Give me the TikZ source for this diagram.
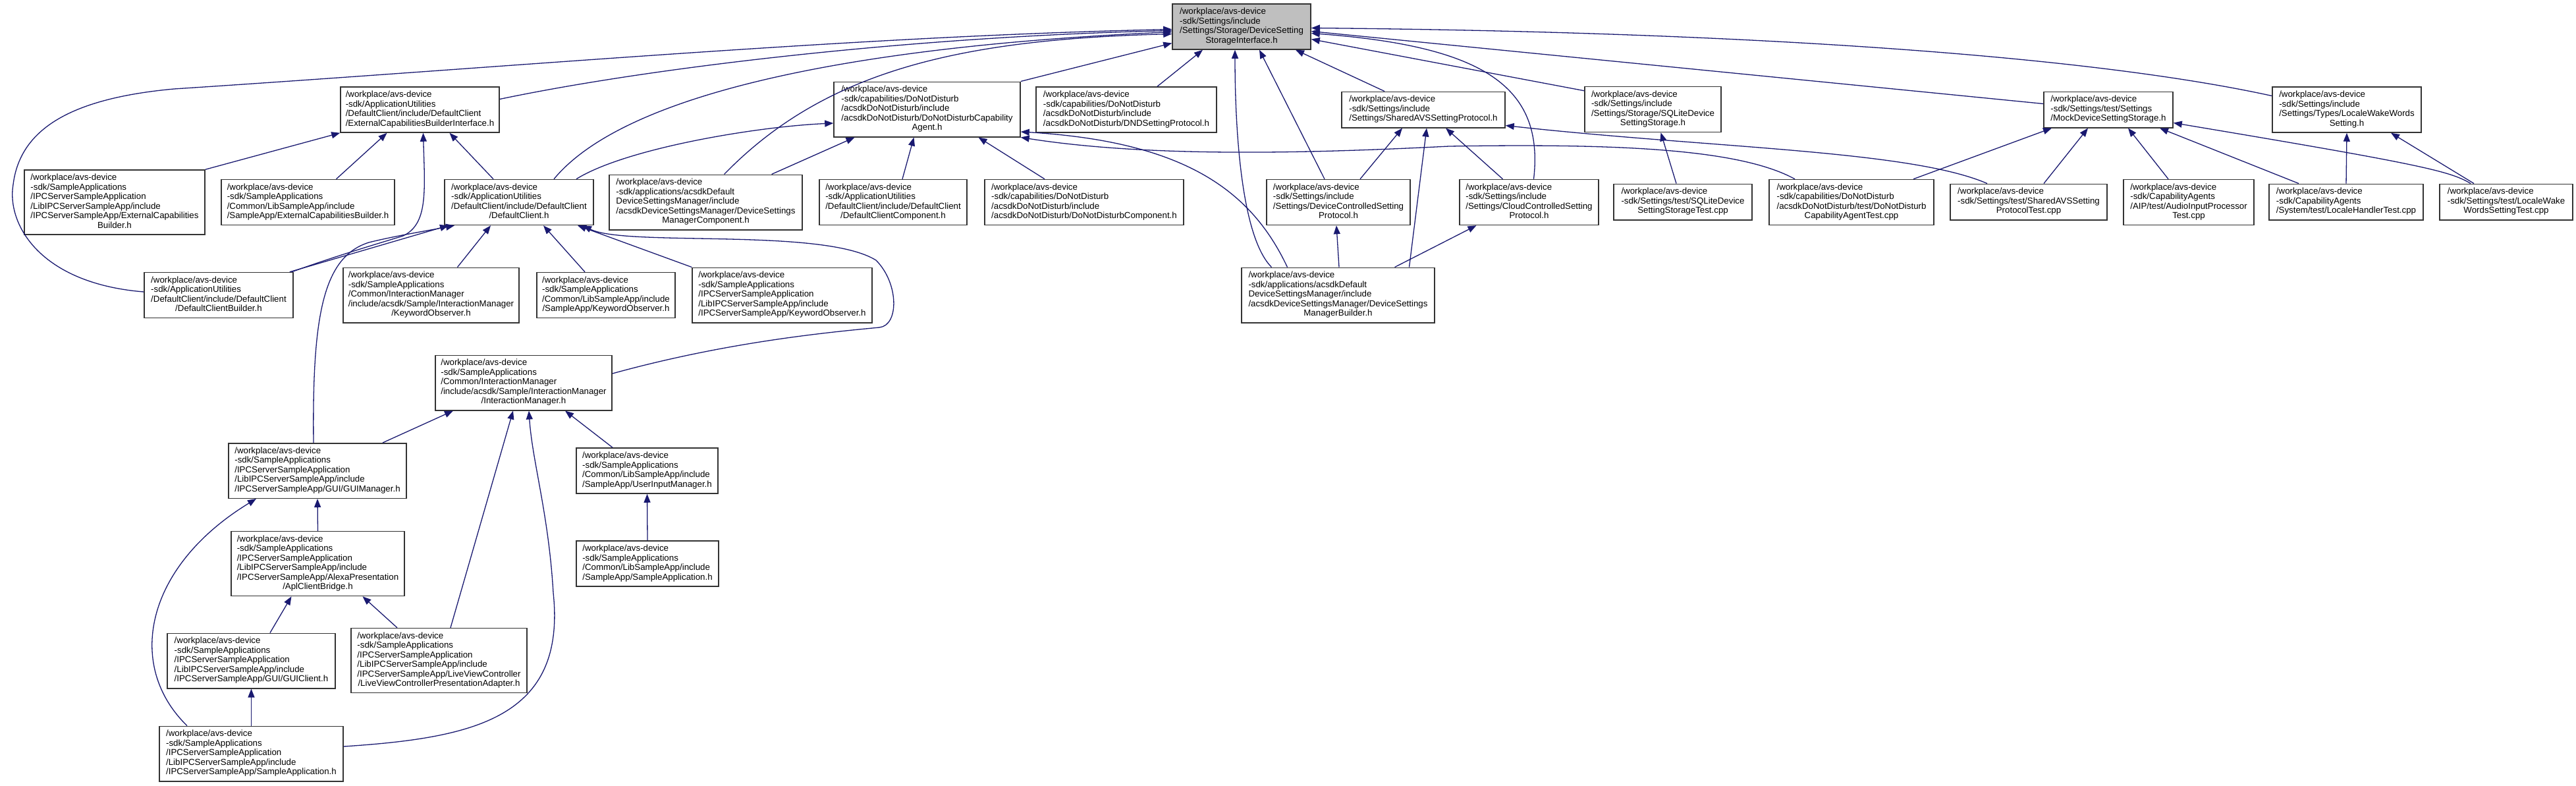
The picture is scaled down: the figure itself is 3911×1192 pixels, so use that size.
\documentclass[tikz,border=0pt]{standalone}
\usepackage{fontspec}
\setmainfont{Liberation Sans}
\usetikzlibrary{arrows.meta}
\definecolor{edgeblue}{RGB}{25,25,112}
\newcommand{\flines}[2]{\begin{tabular}{@{}l@{}}#1\\\multicolumn{1}{@{}c@{}}{#2}\end{tabular}}

\begin{document}
\begin{tikzpicture}[x=1pt, y=-1pt,
        filebox/.style={draw=black!80, line width=1.5pt, fill=white, inner xsep=6pt, inner ysep=5.5pt, font=\fontsize{13.3}{14.5}\selectfont},
        rootbox/.style={filebox, fill=black!25},
        incl/.style={draw=edgeblue, line width=1.3pt, -{Triangle[length=13pt, width=10pt]}}
    ]
        \useasboundingbox (0,0) rectangle (3911,1192);

        % Root
        \node[rootbox, minimum width=210pt] (root) at (1885,40.5) {\flines{/workplace/avs-device\\-sdk/Settings/include\\/Settings/Storage/DeviceSetting}{StorageInterface.h}};

        % Second row
        \node[filebox, minimum width=241pt] (extcapif) at (637.5,166.5) {\flines{/workplace/avs-device\\-sdk/ApplicationUtilities\\/DefaultClient/include/DefaultClient}{/ExternalCapabilitiesBuilderInterface.h}};
        \node[filebox, minimum width=283pt] (dndagent) at (1407.5,166) {\flines{/workplace/avs-device\\-sdk/capabilities/DoNotDisturb\\/acsdkDoNotDisturb/include\\/acsdkDoNotDisturb/DoNotDisturbCapability}{Agent.h}};
        \node[filebox, minimum width=274pt] (dndproto) at (1710,166.5) {\flines{/workplace/avs-device\\-sdk/capabilities/DoNotDisturb\\/acsdkDoNotDisturb/include}{/acsdkDoNotDisturb/DNDSettingProtocol.h}};
        \node[filebox, minimum width=248pt] (sharedavs) at (2161,166.5) {\flines{/workplace/avs-device\\-sdk/Settings/include}{/Settings/SharedAVSSettingProtocol.h}};
        \node[filebox, minimum width=207pt] (sqlite) at (2509.5,166) {\flines{/workplace/avs-device\\-sdk/Settings/include\\/Settings/Storage/SQLiteDevice}{SettingStorage.h}};
        \node[filebox, minimum width=196pt] (mockstore) at (3201,166.5) {\flines{/workplace/avs-device\\-sdk/Settings/test/Settings}{/MockDeviceSettingStorage.h}};
        \node[filebox, minimum width=226pt] (localeww) at (3563,166.5) {\flines{/workplace/avs-device\\-sdk/Settings/include\\/Settings/Types/LocaleWakeWords}{Setting.h}};

        % Third row
        \node[filebox, minimum width=274pt] (ipcextcap) at (174,307) {\flines{/workplace/avs-device\\-sdk/SampleApplications\\/IPCServerSampleApplication\\/LibIPCServerSampleApp/include\\/IPCServerSampleApp/ExternalCapabilities}{Builder.h}};
        \node[filebox, minimum width=263pt] (saextcap) at (467.5,307) {\flines{/workplace/avs-device\\-sdk/SampleApplications\\/Common/LibSampleApp/include}{/SampleApp/ExternalCapabilitiesBuilder.h}};
        \node[filebox, minimum width=226pt] (defclient) at (788,307) {\flines{/workplace/avs-device\\-sdk/ApplicationUtilities\\/DefaultClient/include/DefaultClient}{/DefaultClient.h}};
        \node[filebox, minimum width=293pt] (dsmcomp) at (1071.5,307) {\flines{/workplace/avs-device\\-sdk/applications/acsdkDefault\\DeviceSettingsManager/include\\/acsdkDeviceSettingsManager/DeviceSettings}{ManagerComponent.h}};
        \node[filebox, minimum width=224pt] (dccomp) at (1356,307) {\flines{/workplace/avs-device\\-sdk/ApplicationUtilities\\/DefaultClient/include/DefaultClient}{/DefaultClientComponent.h}};
        \node[filebox, minimum width=302pt] (dndcomp) at (1646,307) {\flines{/workplace/avs-device\\-sdk/capabilities/DoNotDisturb\\/acsdkDoNotDisturb/include}{/acsdkDoNotDisturb/DoNotDisturbComponent.h}};
        \node[filebox, minimum width=218pt] (devctl) at (2032,307) {\flines{/workplace/avs-device\\-sdk/Settings/include\\/Settings/DeviceControlledSetting}{Protocol.h}};
        \node[filebox, minimum width=211pt] (cloudctl) at (2321.5,307) {\flines{/workplace/avs-device\\-sdk/Settings/include\\/Settings/CloudControlledSetting}{Protocol.h}};
        \node[filebox, minimum width=210pt] (sqlitetest) at (2555,306.5) {\flines{/workplace/avs-device\\-sdk/Settings/test/SQLiteDevice}{SettingStorageTest.cpp}};
        \node[filebox, minimum width=250pt] (dndtest) at (2811,307) {\flines{/workplace/avs-device\\-sdk/capabilities/DoNotDisturb\\/acsdkDoNotDisturb/test/DoNotDisturb}{CapabilityAgentTest.cpp}};
        \node[filebox, minimum width=238pt] (sharedtest) at (3080,306.5) {\flines{/workplace/avs-device\\-sdk/Settings/test/SharedAVSSetting}{ProtocolTest.cpp}};
        \node[filebox, minimum width=198pt] (aiptest) at (3323,307) {\flines{/workplace/avs-device\\-sdk/CapabilityAgents\\/AIP/test/AudioInputProcessor}{Test.cpp}};
        \node[filebox, minimum width=234pt] (localetest) at (3562,306.5) {\flines{/workplace/avs-device\\-sdk/CapabilityAgents}{/System/test/LocaleHandlerTest.cpp}};
        \node[filebox, minimum width=202pt] (wakewordtest) at (3805,306.5) {\flines{/workplace/avs-device\\-sdk/Settings/test/LocaleWake}{WordsSettingTest.cpp}};

        % Fourth row
        \node[filebox, minimum width=226pt] (dcbuilder) at (332,448) {\flines{/workplace/avs-device\\-sdk/ApplicationUtilities\\/DefaultClient/include/DefaultClient}{/DefaultClientBuilder.h}};
        \node[filebox, minimum width=267pt] (kwim) at (654.5,448) {\flines{/workplace/avs-device\\-sdk/SampleApplications\\/Common/InteractionManager\\/include/acsdk/Sample/InteractionManager}{/KeywordObserver.h}};
        \node[filebox, minimum width=210pt] (kwsample) at (920,448) {\flines{/workplace/avs-device\\-sdk/SampleApplications\\/Common/LibSampleApp/include}{/SampleApp/KeywordObserver.h}};
        \node[filebox, minimum width=273pt] (kwipc) at (1187.5,448) {\flines{/workplace/avs-device\\-sdk/SampleApplications\\/IPCServerSampleApplication\\/LibIPCServerSampleApp/include}{/IPCServerSampleApp/KeywordObserver.h}};
        \node[filebox, minimum width=293pt] (dsmbuilder) at (2031.5,448) {\flines{/workplace/avs-device\\-sdk/applications/acsdkDefault\\DeviceSettingsManager/include\\/acsdkDeviceSettingsManager/DeviceSettings}{ManagerBuilder.h}};

        % Sample application chain
        \node[filebox, minimum width=268pt] (intmgr) at (795,581) {\flines{/workplace/avs-device\\-sdk/SampleApplications\\/Common/InteractionManager\\/include/acsdk/Sample/InteractionManager}{/InteractionManager.h}};
        \node[filebox, minimum width=270pt] (guimgr) at (482,714.5) {\flines{/workplace/avs-device\\-sdk/SampleApplications\\/IPCServerSampleApplication\\/LibIPCServerSampleApp/include}{/IPCServerSampleApp/GUI/GUIManager.h}};
        \node[filebox, minimum width=215pt] (userinput) at (982.5,714.5) {\flines{/workplace/avs-device\\-sdk/SampleApplications\\/Common/LibSampleApp/include}{/SampleApp/UserInputManager.h}};
        \node[filebox, minimum width=263pt] (aplbridge) at (482.5,855.5) {\flines{/workplace/avs-device\\-sdk/SampleApplications\\/IPCServerSampleApplication\\/LibIPCServerSampleApp/include\\/IPCServerSampleApp/AlexaPresentation}{/AplClientBridge.h}};
        \node[filebox, minimum width=216pt] (sampleapp) at (983,855.5) {\flines{/workplace/avs-device\\-sdk/SampleApplications\\/Common/LibSampleApp/include}{/SampleApp/SampleApplication.h}};
        \node[filebox, minimum width=255pt] (guiclient) at (381.5,1003) {\flines{/workplace/avs-device\\-sdk/SampleApplications\\/IPCServerSampleApplication\\/LibIPCServerSampleApp/include}{/IPCServerSampleApp/GUI/GUIClient.h}};
        \node[filebox, minimum width=267pt] (liveview) at (666.5,1002.5) {\flines{/workplace/avs-device\\-sdk/SampleApplications\\/IPCServerSampleApplication\\/LibIPCServerSampleApp/include\\/IPCServerSampleApp/LiveViewController}{/LiveViewControllerPresentationAdapter.h}};
        \node[filebox, minimum width=279pt] (ipcsampleapp) at (381.5,1144) {\flines{/workplace/avs-device\\-sdk/SampleApplications\\/IPCServerSampleApplication\\/LibIPCServerSampleApp/include}{/IPCServerSampleApp/SampleApplication.h}};

        % Into the root
        \draw[incl] ([yshift=5pt]dcbuilder.west) .. controls (60,430) and (10,340) .. (20,280) .. controls (30,200) and (100,150) .. (264,135) .. controls (800,100) and (1300,55) .. ([yshift=-4pt]root.west);
        \draw[incl] ([yshift=16pt]extcapif.east) .. controls (1000,100) and (1400,55) .. ([yshift=-6pt]root.west);
        \draw[incl] ([xshift=53pt]defclient.north) .. controls (950,140) and (1300,70) .. ([yshift=-8pt]root.west);
        \draw[incl] ([xshift=28pt]dsmcomp.north) .. controls (1250,110) and (1450,60) .. ([yshift=-11pt]root.west);
        \draw[incl] (dndagent.north east) -- ([yshift=-25pt]root.west);
        \draw[incl] ([xshift=47pt]dndproto.north) -- ([xshift=-59pt]root.south);
        \draw[incl] ([xshift=-101pt]dsmbuilder.north) .. controls (1885,360) and (1875,200) .. ([xshift=-10pt]root.south);
        \draw[incl] ([xshift=-21pt]devctl.north) -- ([xshift=27pt]root.south);
        \draw[incl] ([xshift=-59pt]sharedavs.north) -- ([xshift=82pt]root.south);
        \draw[incl] ([xshift=7pt]cloudctl.north) .. controls (2345,130) and (2250,70) .. ([yshift=-10pt]root.east);
        \draw[incl] ([yshift=-7pt]sqlite.north west) -- ([yshift=-19pt]root.east);
        \draw[incl] ([yshift=9pt]mockstore.west) -- ([yshift=-7pt]root.east);
        \draw[incl] ([yshift=21pt]localeww.west) .. controls (3150,80) and (2600,48) .. ([yshift=-2pt]root.east);

        % Into the capabilities builder interface
        \draw[incl] (ipcextcap.north east) -- (extcapif.south west);
        \draw[incl] ([xshift=43pt]saextcap.north) -- ([xshift=-50pt]extcapif.south);
        \draw[incl] ([xshift=-3pt]dcbuilder.north east) .. controls (520,385) and (590,365) .. (612,358) .. controls (650,340) and (645,290) .. ([xshift=5pt]extcapif.south);
        \draw[incl] ([xshift=-39pt]defclient.north) -- ([xshift=45pt]extcapif.south);

        % Into the capability agent
        \draw[incl] ([xshift=87pt]defclient.north) .. controls (950,225) and (1150,192) .. ([yshift=-21pt]dndagent.west);
        \draw[incl] ([xshift=100pt]dsmcomp.north) -- ([xshift=-110pt]dndagent.south);
        \draw[incl] ([xshift=14pt]dccomp.north) -- ([xshift=-20pt]dndagent.south);
        \draw[incl] ([xshift=-60pt]dndcomp.north) -- ([xshift=78pt]dndagent.south);
        \draw[incl] ([xshift=-77pt]dsmbuilder.north) .. controls (1900,290) and (1800,215) .. ([yshift=-34pt]dndagent.east);
        \draw[incl] ([xshift=-86pt]dndtest.north) .. controls (2640,225) and (2450,218) .. (2200,222) .. controls (2000,232) and (1750,240) .. (dndagent.south east);

        % Into DefaultClient.h
        \draw[incl] ([xshift=-6pt]dcbuilder.north east) -- ([xshift=-107pt]defclient.south);
        \draw[incl] ([xshift=-6pt]guimgr.north) .. controls (474,480) and (490,390) .. (560,368) .. controls (600,358) and (650,350) .. ([xshift=-98pt]defclient.south);
        \draw[incl] ([xshift=40pt]kwim.north) -- ([xshift=-43pt]defclient.south);
        \draw[incl] ([xshift=-32pt]kwsample.north) -- ([xshift=37pt]defclient.south);
        \draw[incl] (kwipc.north west) -- ([xshift=89pt]defclient.south);
        \draw[incl] ([yshift=14pt]intmgr.east) .. controls (1100,520) and (1250,505) .. (1335,497) .. controls (1365,494) and (1365,430) .. (1330,395) .. controls (1250,345) and (950,375) .. ([xshift=97pt]defclient.south);

        % Into the shared protocol
        \draw[incl] ([xshift=33pt]devctl.north) -- ([xshift=-32pt]sharedavs.south);
        \draw[incl] ([xshift=108pt]dsmbuilder.north) -- ([xshift=5pt]sharedavs.south);
        \draw[incl] ([xshift=-40pt]cloudctl.north) -- ([xshift=34pt]sharedavs.south);
        \draw[incl] ([xshift=-63pt]sharedtest.north) .. controls (2900,228) and (2600,225) .. ([yshift=-24pt]sharedavs.east);

        % Into the controlled protocols
        \draw[incl] ([xshift=1.5pt]dsmbuilder.north) -- ([xshift=-3pt]devctl.south);
        \draw[incl] ([xshift=86pt]dsmbuilder.north) -- ([xshift=-80pt]cloudctl.south);

        % Tests
        \draw[incl] ([xshift=-10pt]sqlitetest.north) -- ([xshift=12pt]sqlite.south);
        \draw[incl] ([xshift=94pt]dndtest.north) -- ([xshift=-86pt]mockstore.south);
        \draw[incl] ([xshift=23pt]sharedtest.north) -- ([xshift=-31pt]mockstore.south);
        \draw[incl] ([xshift=-31pt]aiptest.north) -- ([xshift=30pt]mockstore.south);
        \draw[incl] ([xshift=-72pt]localetest.north) -- ([xshift=78pt]mockstore.south);
        \draw[incl] ([xshift=-54pt]wakewordtest.north) .. controls (3720,260) and (3680,250) .. ([yshift=-20pt]mockstore.east);
        \draw[incl] (localetest.north) -- (localeww.south);
        \draw[incl] ([xshift=-49pt]wakewordtest.north) -- ([xshift=67pt]localeww.south);

        % Into the interaction manager
        \draw[incl] ([xshift=99pt]guimgr.north) -- ([xshift=-107pt]intmgr.south);
        \draw[incl] ([xshift=17.5pt]liveview.north) -- ([xshift=-16pt]intmgr.south);
        \draw[incl] ([yshift=11pt]ipcsampleapp.east) .. controls (720,1120) and (860,1090) .. (840,900) .. controls (833,780) and (808,700) .. ([xshift=8pt]intmgr.south);
        \draw[incl] ([xshift=-52.5pt]userinput.north) -- ([xshift=63pt]intmgr.south);

        % GUI chain
        \draw[incl] (aplbridge.north) -- (guimgr.south);
        \draw[incl] ([xshift=-97.5pt]ipcsampleapp.north) .. controls (190,1010) and (220,860) .. ([xshift=-93pt]guimgr.south);
        \draw[incl] (sampleapp.north) -- (userinput.south);
        \draw[incl] ([xshift=28.5pt]guiclient.north) -- ([xshift=-40pt]aplbridge.south);
        \draw[incl] ([xshift=-63.5pt]liveview.north) -- ([xshift=68pt]aplbridge.south);
        \draw[incl] (ipcsampleapp.north) -- (guiclient.south);

    \end{tikzpicture}
\end{document}
